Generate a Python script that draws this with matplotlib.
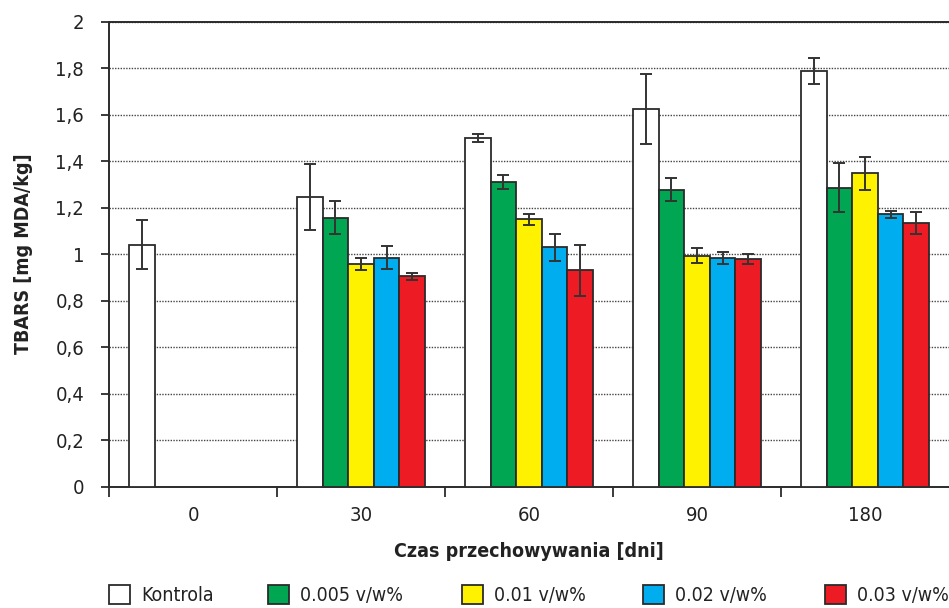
import matplotlib
matplotlib.use("Agg")
import matplotlib.pyplot as plt
from matplotlib.patches import Patch
import numpy as np

plt.rcParams['font.family'] = ['DejaVu Sans']
plt.rcParams['font.stretch'] = 'condensed'

days = ["0", "30", "60", "90", "180"]
series = ["Kontrola", "0.005 v/w%", "0.01 v/w%", "0.02 v/w%", "0.03 v/w%"]
colors = ["#FFFFFF", "#00A651", "#FFF200", "#00AEEF", "#ED1C24"]

# TBARS means and standard deviations, None = not measured
kontrola = [1.04, 1.245, 1.499, 1.624, 1.786]
kontrola_sd = [0.105, 0.143, 0.018, 0.15, 0.055]
c005 = [None, 1.156, 1.311, 1.277, 1.285]
c005_sd = [None, 0.07, 0.03, 0.048, 0.105]
c01 = [None, 0.956, 1.149, 0.993, 1.347]
c01_sd = [None, 0.026, 0.025, 0.033, 0.07]
c02 = [None, 0.984, 1.029, 0.984, 1.172]
c02_sd = [None, 0.05, 0.057, 0.026, 0.015]
c03 = [None, 0.904, 0.93, 0.978, 1.132]
c03_sd = [None, 0.016, 0.11, 0.022, 0.048]

values = [kontrola, c005, c01, c02, c03]
errors = [kontrola_sd, c005_sd, c01_sd, c02_sd, c03_sd]

fig = plt.figure(figsize=(9.49, 6.08), dpi=100)
ax = fig.add_axes([0.1149, 0.1998, 0.8851, 0.7648])

width = 0.152
x = np.arange(len(days))
for i, (vals, errs) in enumerate(zip(values, errors)):
    idx = [j for j, v in enumerate(vals) if v is not None]
    xs = x[idx] + (i - 2) * width
    ys = [vals[j] for j in idx]
    es = [errs[j] for j in idx]
    ax.bar(xs, ys, width=width, color=colors[i], edgecolor="#2b2b2b",
           linewidth=1.3, zorder=3)
    ax.errorbar(xs, ys, yerr=es, fmt="none", ecolor="#333333",
                elinewidth=1.4, capsize=4, capthick=1.4, zorder=4)

ax.set_ylim(0, 2)
ax.set_xlim(-0.5, 4.5)
ax.set_yticks(np.arange(0, 2.01, 0.2))
ax.set_yticklabels(["0", "0,2", "0,4", "0,6", "0,8", "1", "1,2", "1,4", "1,6", "1,8", "2"])
ax.yaxis.grid(True, linestyle=(0, (1, 1)), color="#444444", linewidth=1.0, zorder=0)
ax.set_axisbelow(True)

ax.set_xticks(np.arange(-0.5, 4.5, 1.0))
ax.set_xticklabels([])
ax.set_xticks(x, minor=True)
ax.set_xticklabels(days, minor=True)
ax.tick_params(axis="x", which="major", length=7, width=1.3, direction="out", color="#2b2b2b")
ax.tick_params(axis="x", which="minor", length=0, pad=14, labelsize=14.5, labelcolor="#222222")
ax.tick_params(axis="y", length=6, width=1.3, direction="out", pad=12, labelsize=14.5,
               labelcolor="#222222", color="#2b2b2b")

for side in ["left", "bottom", "top"]:
    ax.spines[side].set_linewidth(1.4)
    ax.spines[side].set_color("#2b2b2b")
ax.spines["right"].set_visible(False)

ax.set_ylabel("TBARS [mg MDA/kg]", fontsize=14, fontweight="bold", color="#222222", labelpad=16)
ax.set_xlabel("Czas przechowywania [dni]", fontsize=14, fontweight="bold", color="#222222", labelpad=12)

# one legend entry per anchor so the entries sit at fixed places along the bottom
legend_x = [109, 268, 462, 643, 825]
for lx, c, name in zip(legend_x, colors, series):
    h = Patch(facecolor=c, edgecolor="#2b2b2b", linewidth=1.3)
    fig.legend([h], [name], loc="center left", bbox_to_anchor=(lx / 949, 1 - 595 / 608),
               frameon=False, fontsize=14, handlelength=1.1, handleheight=1.1,
               handletextpad=0.55, borderpad=0, borderaxespad=0, labelcolor="#222222")

fig.savefig("out.png", dpi=100)
